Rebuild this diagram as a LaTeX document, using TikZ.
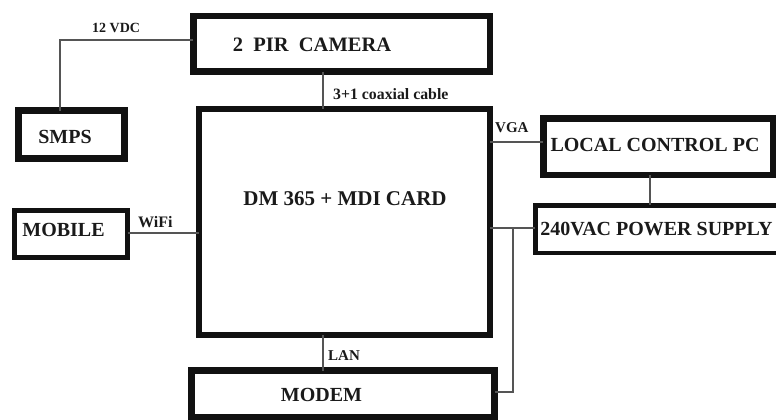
\documentclass[tikz,border=0pt]{standalone}
\usepackage{fontspec}
\setmainfont{Liberation Serif}
\definecolor{boxline}{HTML}{111111}
\definecolor{wire}{HTML}{555555}
\definecolor{ink}{HTML}{1A1A1A}
\tikzset{
  blk/.style={draw=boxline, rectangle, inner sep=0pt, outer sep=0pt},
  bigtxt/.style={font=\fontsize{20}{24}\selectfont\bfseries, text=ink, inner sep=0pt},
  smalltxt/.style={font=\fontsize{15}{18}\selectfont\bfseries, text=ink, inner sep=0pt},
  wireline/.style={draw=wire, line width=1.4pt},
}
\begin{document}
\begin{tikzpicture}[x=1pt,y=-1pt]
\useasboundingbox (0,0) rectangle (776,420);
\clip (0,0) rectangle (776,420);
% boxes (centre lines)
\node[blk, line width=6.5pt, minimum width=296.5pt, minimum height=55.5pt] (cam) at (341.5,44) {};
\node[blk, line width=7pt, minimum width=106pt, minimum height=48pt] (smps) at (71.5,134.5) {};
\node[blk, line width=6pt, minimum width=291.5pt, minimum height=226.5pt] (main) at (344.25,221.75) {};
\node[blk, line width=5pt, minimum width=113pt, minimum height=47pt] (mob) at (71,234) {};
\node[blk, line width=6.5pt, minimum width=229.5pt, minimum height=56.5pt] (pc) at (658,146.5) {};
\node[blk, line width=4.5pt, minimum width=260pt, minimum height=47.5pt] (ps) at (665.25,229) {};
\node[blk, line width=7pt, minimum width=303pt, minimum height=47pt] (modem) at (343,394) {};
% box texts
\node[bigtxt, font=\fontsize{20.5}{24}\selectfont\bfseries] (camt) at (312,44.5) {2\ \ PIR\ \ CAMERA};
\node[bigtxt] (smpst) at (65,136.5) {SMPS};
\node[bigtxt, font=\fontsize{21}{25}\selectfont\bfseries] (maint) at (345,198.5) {DM 365 + MDI CARD};
\node[bigtxt] (mobt) at (63.5,230) {MOBILE};
\node[bigtxt] (pct) at (655,144.5) {LOCAL CONTROL PC};
\node[bigtxt] (pst) at (656.5,229) {240VAC POWER SUPPLY};
\node[bigtxt] (modemt) at (321.5,394.5) {MODEM};
% helper coordinates
\coordinate (k1) at (60,40);
\coordinate (cx) at (323,0);
\coordinate (vga) at (0,142);
\coordinate (pwr) at (0,228);
\coordinate (px) at (650,0);
\coordinate (tap) at (513,228);
\coordinate (tapb) at (513,392);
\coordinate (wifi) at (0,233);
% connectors
\draw[wireline] (smps.north -| k1) |- (cam.west |- k1);
\draw[wireline] (cam.south -| cx) -- (main.north -| cx);
\draw[wireline] (main.east |- vga) -- (pc.west |- vga);
\draw[wireline] (pc.south -| px) -- (ps.north -| px);
\draw[wireline] (main.east |- pwr) -- (ps.west |- pwr);
\draw[wireline] (tap) -- (tapb) -- (modem.east |- tapb);
\draw[wireline] (main.south -| cx) -- (modem.north -| cx);
\draw[wireline] (mob.east |- wifi) -- (main.west |- wifi);
% connector labels
\node[smalltxt, font=\fontsize{14}{17}\selectfont\bfseries, anchor=west] (l12) at (92,27.5) {12 VDC};
\node[smalltxt, font=\fontsize{15.8}{18}\selectfont\bfseries, anchor=west] (lcx) at (333,94) {3+1 coaxial cable};
\node[smalltxt, anchor=west] (lvga) at (495,127.5) {VGA};
\node[smalltxt, anchor=west] (llan) at (328,356) {LAN};
\node[smalltxt, font=\fontsize{16}{19}\selectfont\bfseries, anchor=west] (lwifi) at (138,222.5) {WiFi};
\end{tikzpicture}
\end{document}
